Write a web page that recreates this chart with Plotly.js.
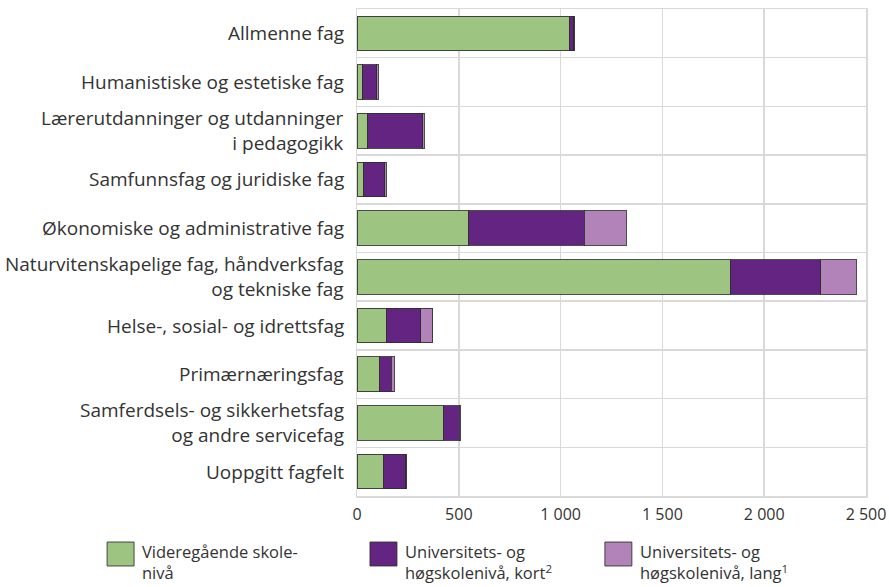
<!DOCTYPE html>
<html>
<head>
<meta charset="utf-8">
<script src="https://cdn.plot.ly/plotly-3.0.1.min.js"></script>
<style>html,body{margin:0;padding:0;background:#fff;}#chart{width:889px;height:587px;}</style>
</head>
<body>
<div id="chart"></div>
<script>
const categories = [
  "Allmenne fag",
  "Humanistiske og estetiske fag",
  "Lærerutdanninger og utdanninger<br>i pedagogikk",
  "Samfunnsfag og juridiske fag",
  "Økonomiske og administrative fag",
  "Naturvitenskapelige fag, håndverksfag<br>og tekniske fag",
  "Helse-, sosial- og idrettsfag",
  "Primærnæringsfag",
  "Samferdsels- og sikkerhetsfag<br>og andre servicefag",
  "Uoppgitt fagfelt"
];
const videregaende = [1042, 28, 54, 33, 550, 1833, 144, 112, 423, 128];
const uniKort      = [23, 69, 270, 104, 567, 444, 168, 57, 78, 111];
const uniLang      = [5, 8, 7, 6, 205, 174, 60, 15, 7, 5];
const seriesNames = [
  "Videregående skole-<br>nivå",
  "Universitets- og<br>høgskolenivå, kort<sup>2</sup>",
  "Universitets- og<br>høgskolenivå, lang<sup>1</sup>"
];
const colors = ["#9ec482", "#642481", "#b283b8"];
const xTicks = [0, 500, 1000, 1500, 2000, 2500];

const seriesValues = [videregaende, uniKort, uniLang];
const traces = seriesValues.map((vals, i) => ({
  type: "bar",
  orientation: "h",
  y: categories,
  x: vals,
  name: seriesNames[i].replace("<br>", " "),
  marker: {color: colors[i], line: {color: "rgba(45,45,45,0.85)", width: 1}},
  showlegend: false,
  hoverinfo: "x+name"
}));

const gridCol = "#d9d9d9";
const fam = "Open Sans, Noto Sans, sans-serif";
const txtCol = "#333333";

const shapes = [];
const annotations = [];

// category labels
categories.forEach(cat => {
  annotations.push({xref: "paper", yref: "y", x: 0, y: cat,
    xanchor: "right", yanchor: "middle", xshift: -11, align: "right",
    showarrow: false, text: cat, font: {family: fam, size: 19, color: txtCol}});
});

// custom legend (positions in paper coords)
const legX = [-0.491, 0.0255, 0.487];
legX.forEach((x0, i) => {
  shapes.push({type: "rect", xref: "paper", yref: "paper",
    x0: x0, x1: x0 + 0.053, y0: -0.1437, y1: -0.0945,
    fillcolor: colors[i], line: {color: "rgba(45,45,45,0.85)", width: 1}});
  annotations.push({xref: "paper", yref: "paper", x: x0 + 0.0655, y: -0.135,
    xanchor: "left", yanchor: "middle", align: "left", showarrow: false,
    text: seriesNames[i], font: {family: fam, size: 16.5, color: txtCol}});
});

const layout = {
  width: 889, height: 587,
  margin: {l: 357, r: 23, t: 9, b: 91},
  paper_bgcolor: "#fff", plot_bgcolor: "#fff",
  font: {family: fam, size: 16, color: txtCol},
  barmode: "stack",
  bargap: 0.29,
  separators: ", ",
  xaxis: {
    range: [0, 2500], tickvals: xTicks, tickformat: ",d",
    showgrid: true, gridcolor: gridCol, gridwidth: 1.5,
    zeroline: false, showline: true, mirror: true, linecolor: gridCol, linewidth: 1.5,
    ticks: "", ticklabelstandoff: 3, tickfont: {size: 16, color: txtCol},
    fixedrange: true
  },
  yaxis: {
    type: "category", autorange: "reversed", tickson: "boundaries",
    showticklabels: false,
    showgrid: true, gridcolor: gridCol, gridwidth: 1.5,
    zeroline: false, showline: true, mirror: true, linecolor: gridCol, linewidth: 1.5,
    ticks: "", fixedrange: true
  },
  shapes: shapes,
  annotations: annotations
};

Plotly.newPlot("chart", traces, layout, {displayModeBar: false, staticPlot: true});
</script>
</body>
</html>
